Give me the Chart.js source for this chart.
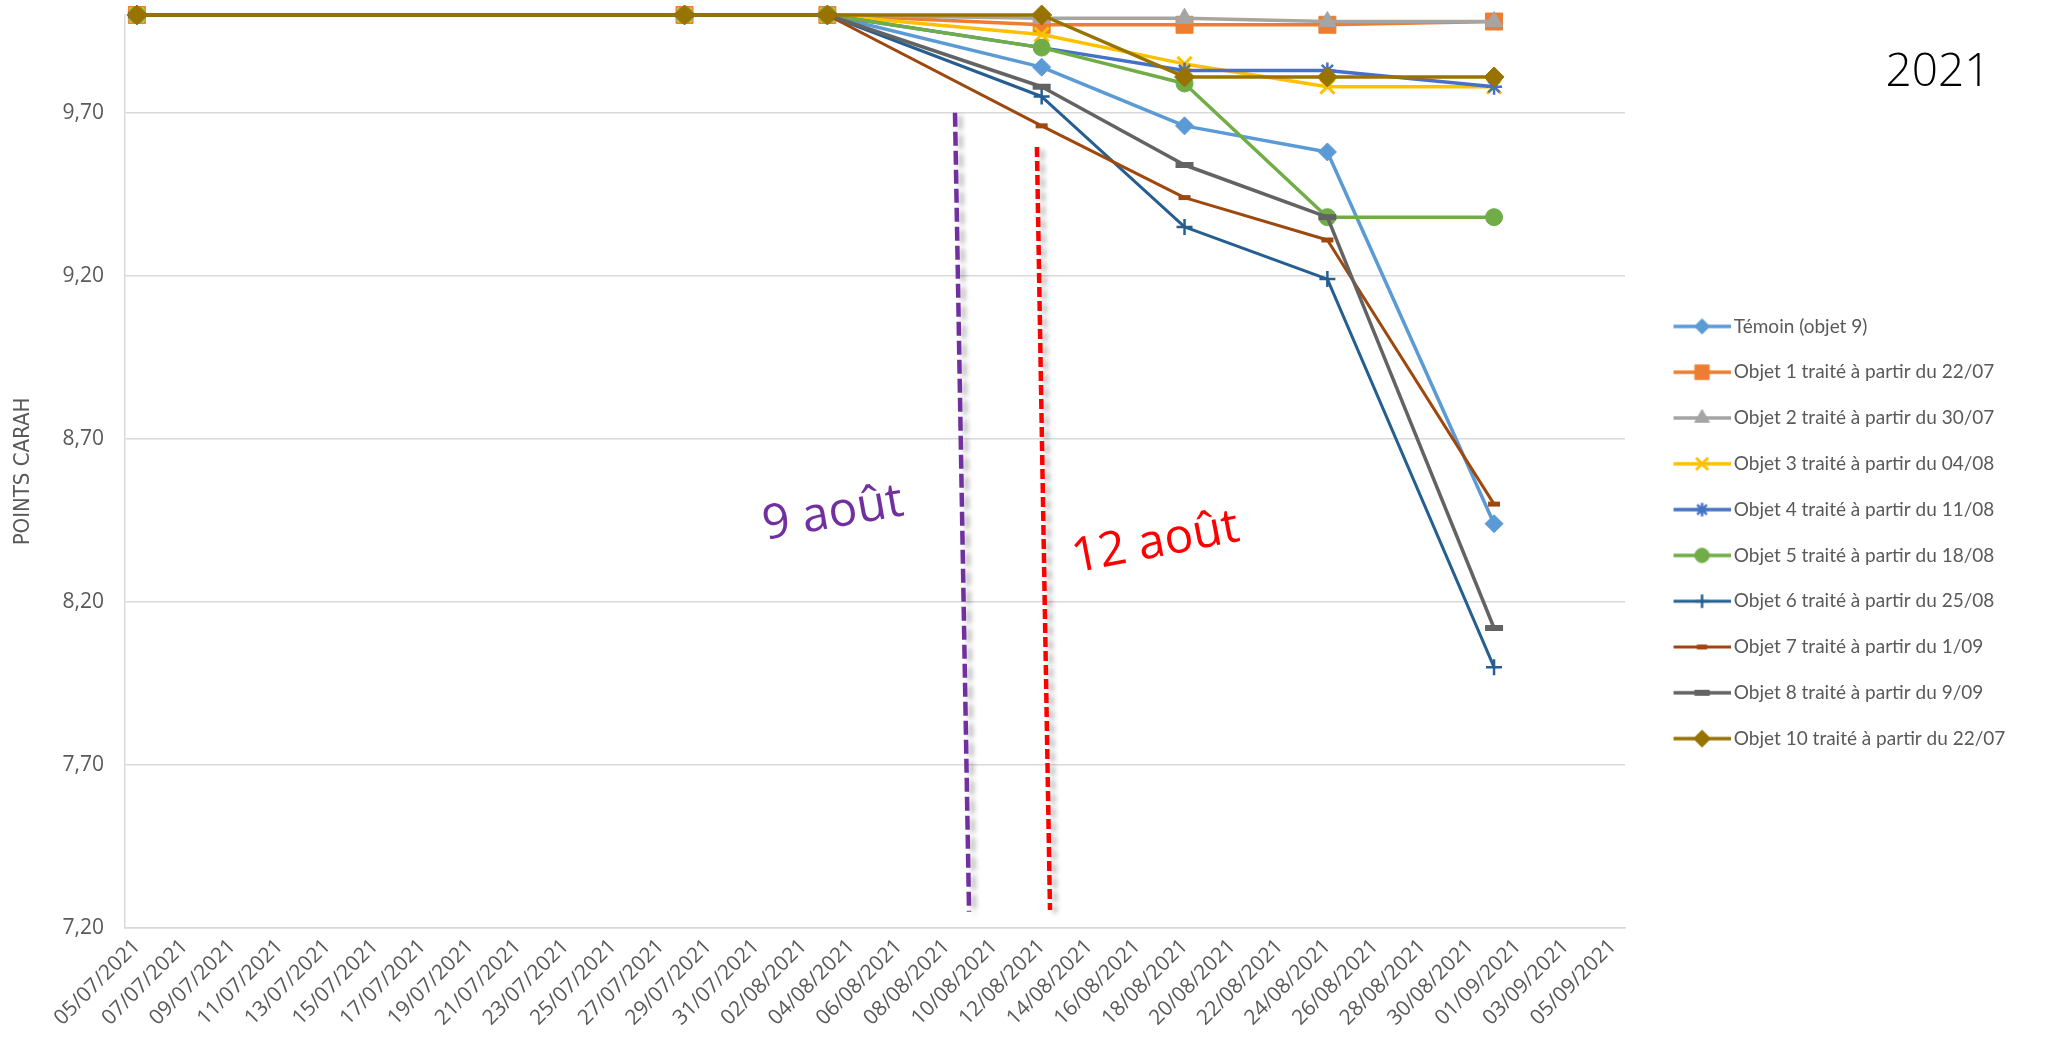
<!DOCTYPE html>
<html lang="fr">
<head>
<meta charset="utf-8">
<title>Points CARAH 2021</title>
<script src="https://cdn.jsdelivr.net/npm/chart.js@4.4.1/dist/chart.umd.min.js"></script>
<style>
  html, body { margin: 0; padding: 0; background: #ffffff; }
  canvas { display: block; }
</style>
</head>
<body>
<canvas id="carah" width="2050" height="1058"></canvas>
<script>
// Observation dates
const dates = ['05/07/2021', '28/07/2021', '03/08/2021', '12/08/2021', '18/08/2021', '24/08/2021', '31/08/2021'];

// CARAH points per treatment
const temoin  = [10, 10, 10, 9.84, 9.66, 9.58, 8.44];
const objet1  = [10, 10, 10, 9.97, 9.97, 9.97, 9.98];
const objet2  = [10, 10, 10, 9.99, 9.99, 9.98, 9.98];
const objet3  = [10, 10, 10, 9.94, 9.85, 9.78, 9.78];
const objet4  = [10, 10, 10, 9.90, 9.83, 9.83, 9.78];
const objet5  = [10, 10, 10, 9.90, 9.79, 9.38, 9.38];
const objet6  = [10, 10, 10, 9.75, 9.35, 9.19, 8.00];
const objet7  = [10, 10, 10, 9.66, 9.44, 9.31, 8.50];
const objet8  = [10, 10, 10, 9.78, 9.54, 9.38, 8.12];
const objet10 = [10, 10, 10, 10.0, 9.81, 9.81, 9.81];

const seriesNames = [
  'Témoin (objet 9)',
  'Objet 1 traité à partir du 22/07',
  'Objet 2 traité à partir du 30/07',
  'Objet 3 traité à partir du 04/08',
  'Objet 4 traité à partir du 11/08',
  'Objet 5 traité à partir du 18/08',
  'Objet 6 traité à partir du 25/08',
  'Objet 7 traité à partir du 1/09',
  'Objet 8 traité à partir du 9/09',
  'Objet 10 traité à partir du 22/07'
];
const seriesValues = [temoin, objet1, objet2, objet3, objet4, objet5, objet6, objet7, objet8, objet10];

// Y axis tick values
const yTicks = [7.20, 7.70, 8.20, 8.70, 9.20, 9.70];

// One category per day, 05/07/2021 .. 05/09/2021
const firstDay = new Date(2021, 6, 5);
const lastDay = new Date(2021, 8, 5);
const dayLabels = [];
for (let d = new Date(firstDay); d <= lastDay; d.setDate(d.getDate() + 1)) {
  const dd = String(d.getDate()).padStart(2, '0');
  const mm = String(d.getMonth() + 1).padStart(2, '0');
  dayLabels.push(dd + '/' + mm + '/' + d.getFullYear());
}

// Line and marker look of each series
const seriesStyles = [
  { color: '#5B9BD5', width: 3.5, point: 'rectRot',  radius: 9,  fill: true,  pw: 1 },
  { color: '#ED7D31', width: 3.5, point: 'rect',     radius: 12, fill: true,  pw: 1 },
  { color: '#A5A5A5', width: 3.5, point: 'triangle', radius: 10, fill: true,  pw: 1 },
  { color: '#FFC000', width: 3.5, point: 'crossRot', radius: 10, fill: false, pw: 3 },
  { color: '#4472C4', width: 3.5, point: 'star',     radius: 8,  fill: false, pw: 2.5 },
  { color: '#70AD47', width: 3.5, point: 'circle',   radius: 8.5, fill: true, pw: 1 },
  { color: '#255E91', width: 3,   point: 'cross',    radius: 8,  fill: false, pw: 2.5 },
  { color: '#9E480E', width: 3,   point: 'line',     radius: 6,  fill: false, pw: 5 },
  { color: '#636363', width: 3.5, point: 'line',     radius: 9,  fill: false, pw: 6 },
  { color: '#997300', width: 3.5, point: 'rectRot',  radius: 10, fill: true,  pw: 1 }
];

// Hand-drawn date markers (offsets in days from the given date, value on the y axis)
const dateMarks = [
  { date: '09/08/2021', text: '9 août',  color: '#7030A0', dash: [14, 5],
    top: [-0.64, 9.70], bottom: [-0.05, 7.25], label: [-5.76, 8.47], angle: -10 },
  { date: '12/08/2021', text: '12 août', color: '#FF0000', dash: [10, 4],
    top: [-0.20, 9.595], bottom: [0.35, 7.255], label: [4.78, 8.38], angle: -11 }
];

const GREY = '#595959';
const GRID = '#D9D9D9';
const LEGEND_FONT = { family: 'Lato, "Open Sans", sans-serif', size: 19 };
const LEGEND_PAD = 26.8;
const LEGEND_BOX = 72.5;
const PLOT_RIGHT = 1625;

function buildDataset(i) {
  const s = seriesStyles[i];
  return {
    label: seriesNames[i],
    data: dates.map((d, k) => ({ x: d, y: seriesValues[i][k] })),
    borderColor: s.color,
    backgroundColor: s.color,
    borderWidth: s.width,
    borderJoinStyle: 'round',
    borderCapStyle: 'round',
    pointStyle: s.point,
    pointRadius: s.radius,
    pointBorderWidth: s.pw,
    pointBorderColor: s.color,
    pointBackgroundColor: s.fill ? s.color : 'rgba(0,0,0,0)',
    tension: 0,
    clip: false,
    order: seriesNames.length - i
  };
}

// Legend sample: short line with the series marker in its middle
const SWATCH_W = 85, SWATCH_LINE = 57, SWATCH_H = 26;
function legendSwatch(i) {
  const s = seriesStyles[i];
  const c = document.createElement('canvas');
  c.width = SWATCH_W; c.height = SWATCH_H;
  const g = c.getContext('2d');
  const x0 = SWATCH_W - SWATCH_LINE, cy = SWATCH_H / 2;
  g.strokeStyle = s.color;
  g.lineWidth = s.width;
  g.beginPath();
  g.moveTo(x0, cy);
  g.lineTo(SWATCH_W, cy);
  g.stroke();
  g.fillStyle = s.fill ? s.color : 'rgba(0,0,0,0)';
  g.strokeStyle = s.color;
  g.lineWidth = s.pw;
  Chart.helpers.drawPoint(g, {
    pointStyle: s.point, radius: s.radius * 0.85, rotation: 0, borderWidth: s.pw
  }, x0 + SWATCH_LINE / 2, cy);
  return c;
}

// Width the legend will claim, so the plot area can end where wanted
function legendWidth() {
  const g = document.createElement('canvas').getContext('2d');
  g.font = LEGEND_FONT.size + 'px ' + LEGEND_FONT.family;
  const textW = Math.max(...seriesNames.map(n => g.measureText(n).width));
  return LEGEND_PAD + LEGEND_BOX + LEGEND_FONT.size / 2 + textW + 10;
}
const rightPad = Math.max(0, 2050 - PLOT_RIGHT - legendWidth());

const dateMarksPlugin = {
  id: 'dateMarks',
  afterDatasetsDraw(chart) {
    const { ctx, scales: { x, y } } = chart;
    dateMarks.forEach(m => {
      const base = dayLabels.indexOf(m.date);
      ctx.save();
      ctx.strokeStyle = m.color;
      ctx.lineWidth = 4.5;
      ctx.setLineDash(m.dash);
      ctx.shadowColor = 'rgba(0,0,0,0.28)';
      ctx.shadowBlur = 5;
      ctx.shadowOffsetX = 5;
      ctx.shadowOffsetY = 3;
      ctx.beginPath();
      ctx.moveTo(x.getPixelForValue(base + m.top[0]), y.getPixelForValue(m.top[1]));
      ctx.lineTo(x.getPixelForValue(base + m.bottom[0]), y.getPixelForValue(m.bottom[1]));
      ctx.stroke();
      ctx.restore();

      ctx.save();
      ctx.translate(x.getPixelForValue(base + m.label[0]), y.getPixelForValue(m.label[1]));
      ctx.rotate(m.angle * Math.PI / 180);
      ctx.font = '400 48px "Open Sans", sans-serif';
      ctx.fillStyle = m.color;
      ctx.textAlign = 'center';
      ctx.textBaseline = 'middle';
      ctx.fillText(m.text, 0, 0);
      ctx.restore();
    });

    // Season caption
    ctx.save();
    ctx.font = '300 46px "Open Sans", sans-serif';
    ctx.fillStyle = '#000000';
    ctx.textAlign = 'center';
    ctx.textBaseline = 'middle';
    ctx.fillText('2021', chart.width - 112, 73);
    ctx.restore();
  }
};

Chart.defaults.font.family = '"Open Sans", sans-serif';
Chart.defaults.color = GREY;

new Chart(document.getElementById('carah'), {
  type: 'line',
  data: {
    labels: dayLabels,
    datasets: seriesNames.map((_, i) => buildDataset(i))
  },
  options: {
    responsive: false,
    animation: false,
    events: [],
    devicePixelRatio: 1,
    layout: { padding: { left: 0, top: 15, right: rightPad, bottom: 8 } },
    scales: {
      x: {
        type: 'category',
        offset: true,
        grid: { display: false, drawTicks: false },
        border: { display: true, color: GRID, width: 1.5 },
        ticks: {
          autoSkip: false,
          maxRotation: 45,
          minRotation: 45,
          padding: 6,
          color: GREY,
          font: { size: 21 },
          callback(value, index) {
            return index % 2 === 0 ? this.getLabelForValue(value) : '';
          }
        },
        afterFit(scale) {
          scale.height = 122;
          scale.paddingLeft = 0;
          scale.paddingRight = 0;
        }
      },
      y: {
        min: 7.2,
        max: 10,
        afterBuildTicks(scale) { scale.ticks = yTicks.map(v => ({ value: v })); },
        grid: { color: GRID, lineWidth: 1.5, drawTicks: false },
        border: { display: true, color: GRID, width: 1.5 },
        ticks: {
          padding: 21,
          color: GREY,
          font: { size: 21 },
          callback: v => Number(v).toFixed(2).replace('.', ',')
        },
        title: {
          display: true,
          text: 'POINTS CARAH',
          color: GREY,
          font: { family: '"Liberation Sans Narrow", "DejaVu Sans Condensed", sans-serif', size: 22 },
          padding: { top: 10, bottom: 0 }
        },
        afterFit(scale) {
          scale.width = 125;
          scale.paddingTop = 0;
          scale.paddingBottom = 0;
        }
      }
    },
    plugins: {
      tooltip: { enabled: false },
      legend: {
        position: 'right',
        align: 'center',
        labels: {
          usePointStyle: true,
          pointStyleWidth: LEGEND_BOX,
          padding: LEGEND_PAD,
          color: GREY,
          font: LEGEND_FONT,
          generateLabels(chart) {
            const items = Chart.defaults.plugins.legend.labels.generateLabels(chart);
            items.sort((a, b) => a.datasetIndex - b.datasetIndex);
            items.forEach(it => {
              it.pointStyle = legendSwatch(it.datasetIndex);
              it.fontColor = GREY;
            });
            return items;
          }
        }
      }
    }
  },
  plugins: [dateMarksPlugin]
});
</script>
</body>
</html>
